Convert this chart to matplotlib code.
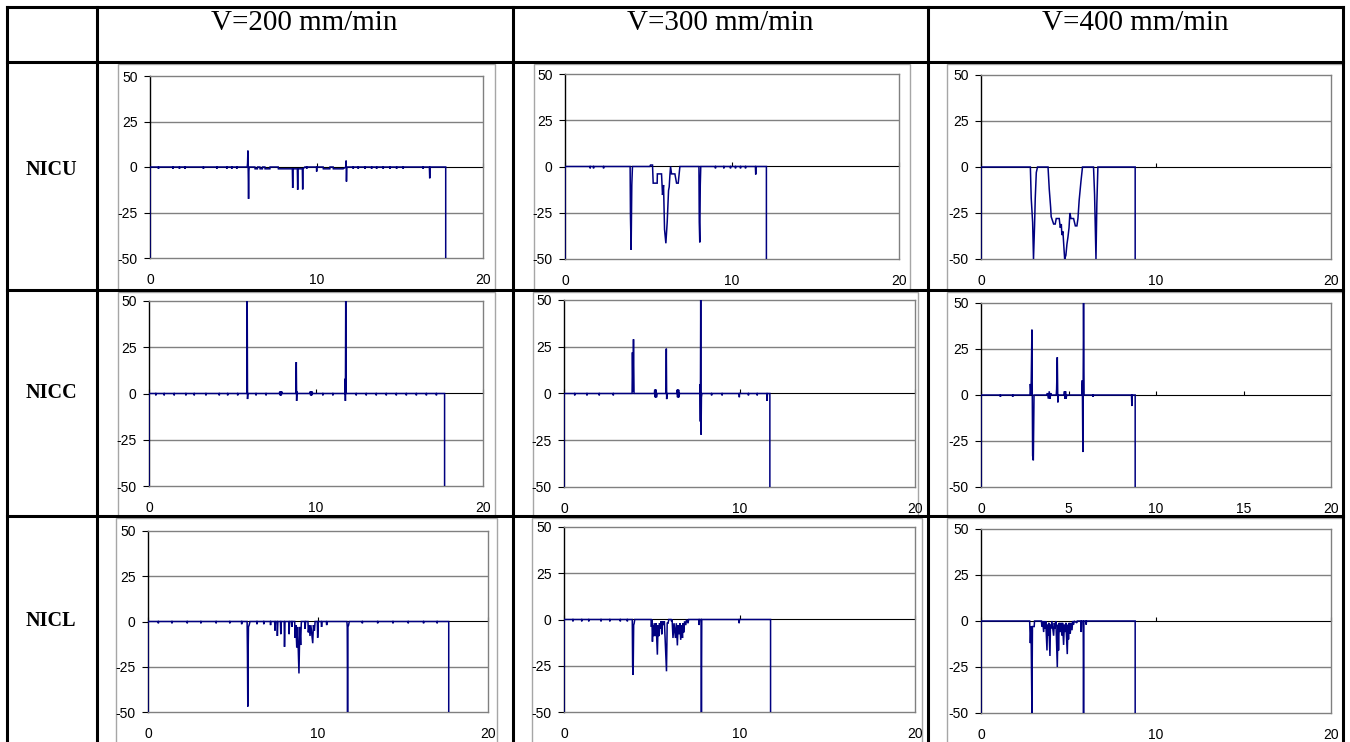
import matplotlib
matplotlib.use("Agg")
import matplotlib.pyplot as plt
from matplotlib.lines import Line2D
from matplotlib.patches import Rectangle

# ---------------- labels ----------------
speeds = ["V=200 mm/min", "V=300 mm/min", "V=400 mm/min"]
materials = ["NICU", "NICC", "NICL"]
y_ticks = [-50, -25, 0, 25, 50]
x_ticks_std = [0, 10, 20]
x_ticks_fine = [0, 5, 10, 15, 20]

# ---------------- signals (time, value) ----------------
nicu_200 = [(0, -50), (0, 0), (0.50, 0), (0.51, -1), (0.52, 0), (1.36, 0), (1.37, -1), (1.38, 0),
            (1.76, 0), (1.77, -1), (1.78, 0), (2.10, 0), (2.11, -1), (2.12, 0), (3.20, 0), (3.21, -1),
            (3.22, 0), (4.00, 0), (4.01, -1), (4.02, 0), (4.60, 0), (4.61, -1), (4.62, 0), (4.90, 0),
            (4.91, -1), (4.92, 0), (5.20, 0), (5.21, -1), (5.22, 0),
            (5.84, 0), (5.86, 2), (5.88, 9), (5.90, -3), (5.92, -17.5), (5.94, -2), (5.96, 0),
            (6.30, 0), (6.31, -1), (6.45, -1), (6.46, 0), (6.60, 0), (6.61, -1), (6.75, -1), (6.76, 0),
            (6.90, 0), (6.91, -1), (7.20, -1), (7.21, 0), (7.70, 0), (7.71, -1), (8.40, -1),
            (8.55, -1), (8.57, -11.5), (8.59, -1), (8.85, -1), (8.87, -12.5), (8.89, -1),
            (9.15, -1), (9.17, -12.3), (9.19, -1), (9.30, 0), (9.40, 0), (9.41, -1), (9.42, 0),
            (10.0, 0), (10.01, -2.5), (10.02, 0), (10.4, 0), (10.41, -1), (10.8, -1), (10.81, 0),
            (11.0, 0), (11.01, -1), (11.6, -1), (11.76, 0), (11.78, 3.5), (11.80, -8), (11.82, -1),
            (11.84, 0), (12.2, 0), (12.21, -1), (12.22, 0), (12.5, 0), (12.51, -1), (12.52, 0),
            (12.9, 0), (12.91, -1), (12.92, 0), (13.3, 0), (13.31, -1), (13.32, 0), (13.6, 0),
            (13.61, -1), (13.62, 0), (14.0, 0), (14.01, -1), (14.02, 0), (14.4, 0), (14.41, -1),
            (14.42, 0), (14.8, 0), (14.81, -1), (14.82, 0), (15.2, 0), (15.21, -1), (15.22, 0),
            (16.40, 0), (16.41, -1), (16.42, 0), (16.78, 0), (16.80, -6.2), (16.82, 0),
            (17.76, 0), (17.76, -51)]

nicu_300 = [(0, -50), (0, 0), (1.50, 0), (1.51, -1), (1.52, 0), (1.70, 0), (1.71, -1), (1.72, 0),
            (2.30, 0), (2.31, -1), (2.32, 0),
            (3.90, 0), (3.92, -27), (3.96, -45), (4.00, -10), (4.04, 0),
            (5.08, 0), (5.12, 0.8), (5.24, 0.8), (5.28, -9), (5.52, -9), (5.53, -4), (5.78, -4),
            (5.84, -15.4), (5.90, -10), (5.96, -34), (6.04, -41.5), (6.12, -30), (6.20, -13),
            (6.24, -11), (6.28, -5), (6.32, 0), (6.38, -4), (6.58, -4), (6.68, -9), (6.78, -9),
            (6.88, 0), (8.02, 0), (8.04, -30), (8.07, -41), (8.10, -10), (8.13, 0),
            (9.0, 0), (9.01, -1), (9.02, 0), (9.5, 0), (9.51, -1), (9.52, 0), (9.9, 0), (9.91, -1),
            (9.92, 0), (10.2, 0), (10.21, -1), (10.22, 0), (10.5, 0), (10.51, -1), (10.52, 0),
            (10.8, 0), (10.81, -1), (10.82, 0), (11.40, 0), (11.42, -4.3), (11.44, 0),
            (12.06, 0), (12.06, -51)]

nicu_400 = [(0, -50), (0, 0), (2.82, 0), (2.87, -17), (2.95, -30), (3.00, -50), (3.06, -32),
            (3.10, -17), (3.16, -3), (3.23, 0), (3.83, 0), (3.90, -12), (3.98, -22), (4.01, -27),
            (4.15, -31), (4.24, -31), (4.30, -28), (4.47, -28), (4.53, -33), (4.59, -31),
            (4.62, -37), (4.68, -35), (4.78, -50), (4.85, -48), (4.91, -42), (4.97, -38),
            (5.03, -33), (5.08, -25), (5.14, -28), (5.29, -28), (5.39, -32), (5.48, -32),
            (5.54, -28), (5.61, -18), (5.71, -8), (5.80, 0), (6.43, 0), (6.49, -15), (6.57, -50),
            (6.62, -20), (6.68, 0), (8.81, 0), (8.81, -50)]

nicc_200 = [(0, -50), (0, 0), (0.40, 0), (0.41, -1), (0.42, 0), (0.90, 0), (0.91, -1), (0.92, 0),
            (1.50, 0), (1.51, -1), (1.52, 0), (2.20, 0), (2.21, -1), (2.22, 0), (2.70, 0),
            (2.71, -1), (2.72, 0), (3.40, 0), (3.41, -1), (3.42, 0), (4.20, 0), (4.21, -1),
            (4.22, 0), (4.70, 0), (4.71, -1), (4.72, 0), (5.30, 0), (5.31, -1), (5.32, 0),
            (5.86, 0), (5.87, 5), (5.88, 50), (5.90, -3), (5.92, 0),
            (6.40, 0), (6.41, -1), (6.42, 0), (7.00, 0), (7.01, -1), (7.02, 0),
            (7.80, 0), (7.83, 1), (7.86, -1), (7.89, 1), (7.92, -1), (7.95, 1), (7.98, 0),
            (8.79, 0), (8.80, 4), (8.82, 17), (8.84, -4), (8.86, 1), (8.88, 0),
            (9.62, 0), (9.65, 1), (9.68, -1), (9.71, 1), (9.74, -1), (9.77, 1), (9.80, 0),
            (10.40, 0), (10.41, -1), (10.42, 0), (11.00, 0), (11.01, -1), (11.02, 0),
            (11.74, 0), (11.75, 8), (11.76, -4), (11.78, 50), (11.80, 0),
            (12.40, 0), (12.41, -1), (12.42, 0), (13.00, 0), (13.01, -1), (13.02, 0),
            (13.60, 0), (13.61, -1), (13.62, 0), (14.20, 0), (14.21, -1), (14.22, 0),
            (14.80, 0), (14.81, -1), (14.82, 0), (15.40, 0), (15.41, -1), (15.42, 0),
            (16.00, 0), (16.01, -1), (16.02, 0), (16.60, 0), (16.61, -1), (16.62, 0),
            (17.20, 0), (17.21, -1), (17.22, 0), (17.70, 0), (17.70, -50)]

nicc_300 = [(0, -50), (0, 0), (0.60, 0), (0.61, -1), (0.62, 0), (1.30, 0), (1.31, -1), (1.32, 0),
            (2.00, 0), (2.01, -1), (2.02, 0), (2.80, 0), (2.81, -1), (2.82, 0),
            (3.88, 0), (3.90, 22), (3.93, 1), (3.96, 29), (3.99, 0),
            (5.15, 0), (5.17, 2), (5.19, -2), (5.21, 2), (5.23, -2), (5.25, 2), (5.27, -2), (5.30, 0),
            (5.80, 0), (5.81, 3), (5.83, 24), (5.85, -3), (5.87, 0),
            (6.43, 0), (6.45, 2), (6.47, -2), (6.49, 2), (6.51, -2), (6.53, 2), (6.55, -2), (6.58, 0),
            (7.74, 0), (7.75, 5), (7.77, -15), (7.79, 50), (7.81, -22), (7.83, -2), (7.86, 0),
            (8.40, 0), (8.41, -1), (8.42, 0), (9.00, 0), (9.01, -1), (9.02, 0),
            (9.98, 0), (9.99, -2), (10.00, 0), (10.50, 0), (10.51, -1), (10.52, 0),
            (11.00, 0), (11.01, -1), (11.02, 0), (11.55, 0), (11.57, -4), (11.59, 0),
            (11.73, 0), (11.73, -50)]

nicc_400 = [(0, -50), (0, 0), (1.10, 0), (1.11, -1), (1.12, 0), (1.80, 0), (1.81, -1), (1.82, 0),
            (2.80, 0), (2.82, 6), (2.86, 0), (2.91, 35.5), (2.95, -33), (2.99, -35.5), (3.03, 0),
            (3.75, 0), (3.80, 1), (3.85, -2), (3.90, 2), (3.95, -2), (3.98, 1), (4.02, 0),
            (4.30, 0), (4.32, 3), (4.36, 20.5), (4.39, -4), (4.42, 0),
            (4.74, 0), (4.77, 2), (4.80, -2), (4.83, 2), (4.86, -2), (4.90, 0),
            (5.76, 0), (5.79, 8), (5.82, -31), (5.86, 50), (5.89, 0),
            (6.40, 0), (6.41, -1), (6.42, 0), (8.60, 0), (8.62, -6), (8.64, 0),
            (8.81, 0), (8.81, -50)]

nicl_200 = [(0, -50), (0, 0), (0.60, 0), (0.61, -1), (0.62, 0), (1.40, 0), (1.41, -1), (1.42, 0),
            (2.30, 0), (2.31, -1), (2.32, 0), (3.10, 0), (3.11, -1), (3.12, 0), (4.00, 0),
            (4.01, -1), (4.02, 0), (4.80, 0), (4.81, -1), (4.82, 0), (5.50, 0), (5.51, -1.5),
            (5.52, 0), (5.83, 0), (5.85, -18), (5.87, -47), (5.89, -18), (5.91, -3), (5.95, -2),
            (6.00, 0), (6.40, 0), (6.41, -1.5), (6.42, 0), (6.80, 0), (6.81, -1.5), (6.82, 0),
            (7.20, 0), (7.21, -2), (7.22, 0),
            (7.45, 0), (7.47, -5), (7.50, 0), (7.59, 0), (7.61, -8), (7.64, 0), (7.79, 0),
            (7.81, -7), (7.84, 0), (8.01, 0), (8.03, -14), (8.06, 0), (8.28, 0), (8.30, -7),
            (8.33, 0), (8.44, 0), (8.46, -3), (8.49, 0), (8.63, 0), (8.65, -9), (8.70, -2),
            (8.75, -14.5), (8.80, -3), (8.88, -28.7), (8.93, -3), (8.98, -13), (9.02, 0),
            (9.22, 0), (9.24, -4), (9.27, 0), (9.41, 0), (9.43, -6), (9.48, -2), (9.53, -8),
            (9.58, -2), (9.69, -12), (9.73, -2), (9.79, -5), (9.83, 0), (9.96, 0), (9.98, -9),
            (10.02, 0), (10.19, 0), (10.21, -3), (10.24, 0), (10.49, 0), (10.51, -2), (10.54, 0),
            (11.70, 0), (11.72, -3), (11.74, -50), (11.76, -3), (11.80, -2), (11.84, 0),
            (12.60, 0), (12.61, -1), (12.62, 0), (13.50, 0), (13.51, -1), (13.52, 0),
            (14.40, 0), (14.41, -1), (14.42, 0), (15.30, 0), (15.31, -1), (15.32, 0),
            (16.20, 0), (16.21, -1), (16.22, 0), (17.00, 0), (17.01, -1), (17.02, 0),
            (17.69, 0), (17.69, -50)]

nicl_300 = [(0, -50), (0, 0), (0.50, 0), (0.51, -1), (0.52, 0), (1.00, 0), (1.01, -1), (1.02, 0),
            (1.40, 0), (1.41, -1), (1.42, 0), (2.10, 0), (2.11, -1), (2.12, 0), (2.60, 0),
            (2.61, -1), (2.62, 0), (3.20, 0), (3.21, -1), (3.22, 0), (3.60, 0), (3.61, -1),
            (3.62, 0), (3.89, 0), (3.91, -25), (3.94, -30), (3.97, -3), (4.00, -2), (4.03, 0),
            (4.96, 0), (4.98, -4), (5.01, 0), (5.04, -12), (5.07, -3), (5.11, -9), (5.14, -2),
            (5.21, -9), (5.25, -2), (5.32, -19), (5.36, -3), (5.40, -9), (5.44, -2), (5.49, -5),
            (5.53, -1), (5.57, -8), (5.61, -1), (5.68, -3), (5.72, -1), (5.84, -28), (5.88, -2),
            (5.93, -2), (5.97, 0), (6.10, 0), (6.13, -1), (6.16, 0), (6.21, -10), (6.27, -2),
            (6.35, -10), (6.40, -2), (6.46, -14), (6.50, -3), (6.56, -8), (6.60, -2), (6.65, -11),
            (6.70, -3), (6.75, -10), (6.79, -2), (6.82, -7), (6.87, -1), (6.94, -3), (6.98, 0),
            (7.07, -2), (7.10, 0), (7.68, 0), (7.70, -3), (7.72, 0), (7.81, 0), (7.83, -50),
            (7.85, 0), (9.96, 0), (9.98, -2), (10.00, 0), (11.77, 0), (11.77, -50)]

nicl_400 = [(0, -50), (0, 0), (2.78, 0), (2.82, -12), (2.86, -3), (2.91, -50), (2.94, -3),
            (3.04, -3), (3.06, 0), (3.45, 0), (3.48, -3), (3.53, 0), (3.58, -6), (3.62, 0),
            (3.67, -4), (3.70, 0), (3.77, -16), (3.80, -2), (3.83, -8), (3.87, -1), (3.94, -19),
            (3.97, -2), (4.01, -4), (4.05, 0), (4.15, -8), (4.19, -1), (4.24, -4), (4.28, 0),
            (4.36, -25), (4.40, -2), (4.43, -16), (4.47, -1), (4.53, -6), (4.57, -1), (4.62, -8),
            (4.66, -1), (4.72, -13), (4.76, -2), (4.81, -6), (4.85, -1), (4.93, -18), (4.97, -2),
            (5.00, -10), (5.04, -1), (5.10, -7), (5.14, -1), (5.20, -5), (5.24, 0), (5.29, -2),
            (5.33, 0), (5.48, -1), (5.50, 0), (5.71, 0), (5.73, -6), (5.75, 0), (5.84, 0),
            (5.86, -50), (5.88, 0), (6.00, 0), (6.01, -2), (6.03, 0), (8.81, 0), (8.81, -50)]

signals = [[nicu_200, nicu_300, nicu_400],
           [nicc_200, nicc_300, nicc_400],
           [nicl_200, nicl_300, nicl_400]]

# ---------------- layout (pixels) ----------------
W, H = 1350, 742
fig = plt.figure(figsize=(W / 100, H / 100), dpi=100)
fig.patch.set_facecolor("white")


def frect(L, T, R, B):
    return [L / W, 1 - B / H, (R - L) / W, (B - T) / H]


plot_boxes = [
    [(150, 76, 483, 258), (565, 74, 899, 259), (981, 75, 1331, 259)],
    [(149, 301, 483, 486), (564, 300, 915, 487), (981, 303, 1331, 487)],
    [(148, 531, 488, 712), (564, 527, 915, 712), (981, 529, 1331, 713)],
]
frame_boxes = [
    [(118, 64, 495, 290), (534, 64, 910, 290), (947, 64, 1343, 290)],
    [(118, 292, 495, 516), (533, 292, 918, 516), (947, 292, 1343, 516)],
    [(116, 518, 497, 745), (532, 518, 922, 745), (947, 518, 1343, 745)],
]

GRID = "#808080"
LINE = "#000080"
tick_font = dict(family=["Liberation Sans", "DejaVu Sans"], size=10)

# chart-area frames
for r in range(3):
    for c in range(3):
        L, T, R, B = frame_boxes[r][c]
        fig.add_artist(Rectangle((L / W, 1 - B / H), (R - L) / W, (B - T) / H,
                                 transform=fig.transFigure, facecolor="white",
                                 edgecolor="#a6a6a6", lw=1.0, zorder=0))

for r in range(3):
    for c in range(3):
        ax = fig.add_axes(frect(*plot_boxes[r][c]))
        ax.set_facecolor("white")
        ax.set_xlim(0, 20)
        ax.set_ylim(-50, 50)
        xt = x_ticks_fine if (r == 1 and c == 2) else x_ticks_std
        ax.set_xticks(xt)
        ax.set_yticks(y_ticks)
        ax.set_xticklabels([str(v) for v in xt], fontdict=tick_font)
        ax.set_yticklabels([str(v) for v in y_ticks], fontdict=tick_font)
        for y in (-25, 25):
            ax.axhline(y, color=GRID, lw=1.0, zorder=1)
        for s in ("top", "right", "bottom"):
            ax.spines[s].set_color(GRID)
            ax.spines[s].set_linewidth(1.0)
        ax.spines["left"].set_color("black")
        ax.spines["left"].set_linewidth(1.0)
        ax.tick_params(axis="x", length=0, pad=11)
        ax.tick_params(axis="y", direction="out", length=4, width=0.8, pad=5, color="black")
        # x axis crossing at zero
        sec = ax.secondary_xaxis(0.5)
        sec.set_xticks(xt)
        sec.set_xticklabels([])
        sec.spines["bottom"].set_color("black")
        sec.spines["bottom"].set_linewidth(1.0)
        sec.tick_params(axis="x", direction="out", length=3, width=0.8, color="black")
        t, v = zip(*signals[r][c])
        ax.plot(t, v, color=LINE, lw=1.1, zorder=3, solid_joinstyle="miter")

# ---------------- table grid ----------------
tw = 2.2
xs = [7, 97, 513, 928, 1343]
ys = [7, 62, 290, 516]
for x in xs:
    fig.add_artist(Line2D([x / W, x / W], [1 - 7 / H, 0], transform=fig.transFigure,
                          color="black", lw=tw, zorder=10, solid_capstyle="projecting"))
for y in ys:
    fig.add_artist(Line2D([7 / W, 1343 / W], [1 - y / H, 1 - y / H], transform=fig.transFigure,
                          color="black", lw=tw, zorder=10, solid_capstyle="projecting"))

# headers
col_centers = [304, 720, 1135]
for cx, s in zip(col_centers, speeds):
    fig.text(cx / W, 1 - 30.5 / H, s, ha="center", va="baseline",
             fontsize=21, family=["Liberation Serif", "DejaVu Serif"])

row_centers = [170, 393, 621]
for cy, m in zip(row_centers, materials):
    fig.text(51 / W, 1 - cy / H, m, ha="center", va="center", fontsize=14.5,
             fontweight="bold", family=["Liberation Serif", "DejaVu Serif"])

fig.savefig("out.png", dpi=100)
